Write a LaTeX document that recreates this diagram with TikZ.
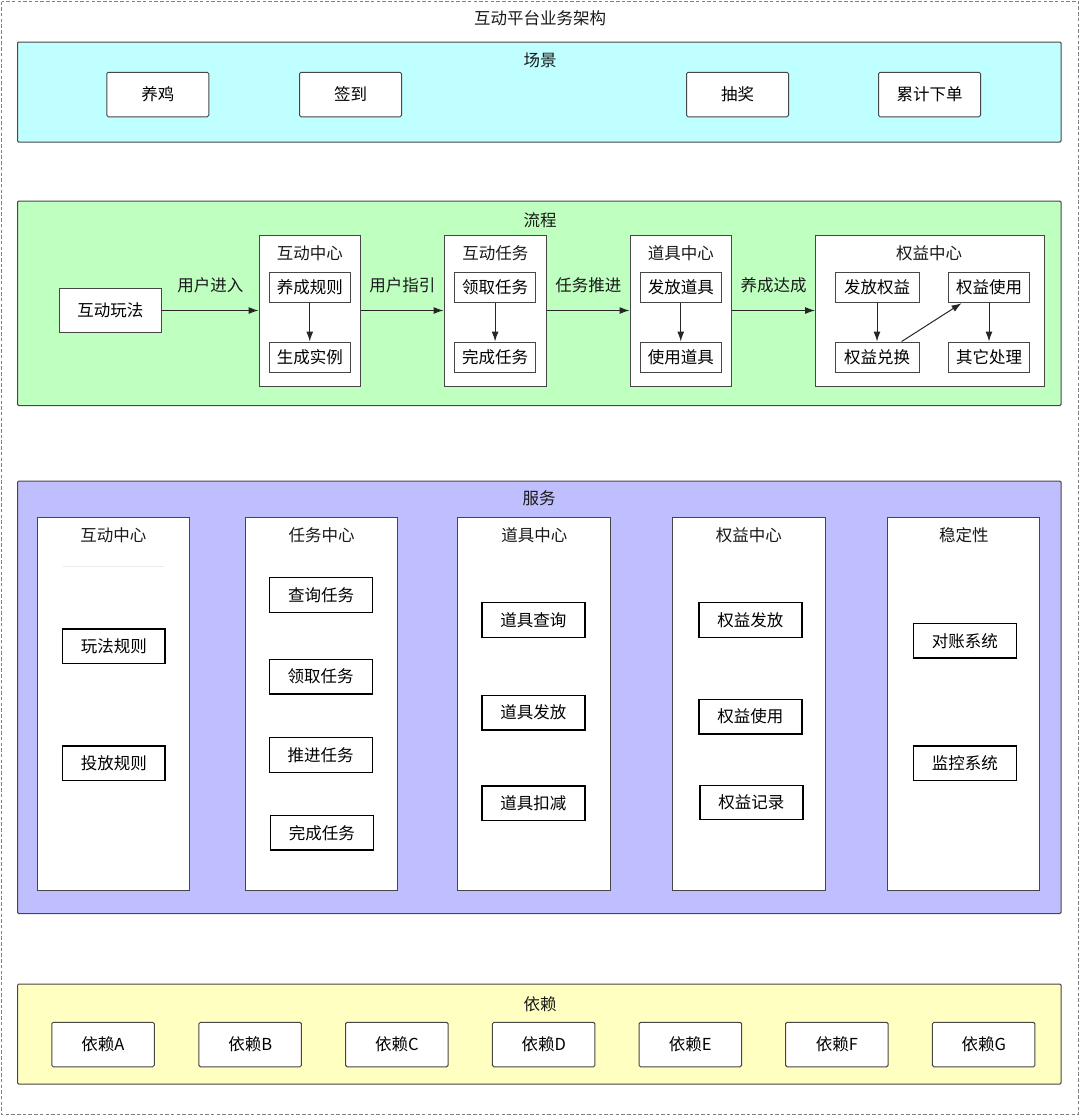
\documentclass[tikz,border=0pt]{standalone}
\usepackage{fontspec}
\setmainfont{Noto Sans CJK SC}
\usetikzlibrary{arrows.meta,calc}
\definecolor{cyanbg}{RGB}{191,255,255}
\definecolor{greenbg}{RGB}{191,255,191}
\definecolor{purplebg}{RGB}{191,191,255}
\definecolor{yellowbg}{RGB}{255,255,193}
\definecolor{edge}{RGB}{70,70,70}
\begin{document}
\begin{tikzpicture}[x=1pt,y=-1pt,
  font=\fontsize{16.5}{19}\selectfont,
  area/.style={draw=edge, line width=1pt, rounded corners=1.2pt, inner sep=0pt},
  ttl/.style={inner sep=0pt, text=black!90},
  sbox/.style={draw=edge, fill=white, line width=1pt, rounded corners=1.5pt, minimum width=102pt, minimum height=44.5pt, inner sep=0pt},
  fbox/.style={draw=edge, fill=white, line width=1pt, minimum width=81pt, minimum height=30pt, inner sep=0pt},
  fcont/.style={draw=edge, fill=white, line width=1pt, minimum width=101.5pt, minimum height=151pt, inner sep=0pt},
  svbox/.style={draw=black, fill=white, line width=1.3pt, minimum width=103pt, minimum height=34.5pt, inner sep=0pt},
  col/.style={draw=edge, fill=white, line width=1pt, minimum width=152pt, minimum height=372.3pt, inner sep=0pt},
  arr/.style={-{Latex[length=10pt,width=7pt]}, line width=1pt, draw=black!85},
  lbl/.style={inner sep=0pt, text=black!90}
]
\useasboundingbox (0,0) rectangle (1080,1117);
% outer dashed frame
\draw[draw=black!50, line width=1.4pt, dash pattern=on 3.5pt off 2.2pt] (1.5,1.5) rectangle (1078.5,1114.5);
\node[ttl] (maintitle) at (540,18) {互动平台业务架构};

% ---------------- 场景 ----------------
\draw[area, fill=cyanbg] (17.5,42) rectangle (1061,142);
\node[ttl] (t-scene) at (540,60) {场景};
\node[sbox] (s1) at (157.75,94.5) {养鸡};
\node[sbox] (s2) at (350.5,94.5) {签到};
\node[sbox] (s3) at (737.5,94.5) {抽奖};
\node[sbox] (s4) at (929.5,94.5) {累计下单};

% ---------------- 流程 ----------------
\draw[area, fill=greenbg] (17.5,201) rectangle (1061,405.5);
\node[ttl] (t-flow) at (540,220) {流程};
\node[fbox, minimum width=102.5pt, minimum height=44pt] (play) at (110.25,310.5) {互动玩法};

\node[fcont] (c1) at (309.75,310.5) {};
\node[ttl] (c1t) at (309.75,253) {互动中心};
\node[fbox, minimum width=80.5pt] (c1a) at (309.75,287.7) {养成规则};
\node[fbox, minimum width=80.5pt] (c1b) at (309.75,357) {生成实例};

\node[fcont, minimum width=102.5pt] (c2) at (495.25,310.5) {};
\node[ttl] (c2t) at (495.25,253) {互动任务};
\node[fbox] (c2a) at (495.1,287.7) {领取任务};
\node[fbox] (c2b) at (495.1,357) {完成任务};

\node[fcont] (c3) at (680.75,310.5) {};
\node[ttl] (c3t) at (680.75,253) {道具中心};
\node[fbox, minimum width=81.5pt] (c3a) at (680.75,287.7) {发放道具};
\node[fbox, minimum width=81.5pt] (c3b) at (680.75,357) {使用道具};

\node[fcont, minimum width=229pt] (c4) at (930,310.5) {};
\node[ttl] (c4t) at (929,253) {权益中心};
\node[fbox, minimum width=84pt] (c4a) at (877,287.7) {发放权益};
\node[fbox] (c4b) at (989,287.7) {权益使用};
\node[fbox, minimum width=84pt] (c4c) at (877,357) {权益兑换};
\node[fbox] (c4d) at (989,357) {其它处理};

\draw[arr] (play.east) -- node[lbl, midway, yshift=25.5pt] (l1) {用户进入} (c1.west);
\draw[arr] (c1.east) -- node[lbl, midway, yshift=25.5pt] (l2) {用户指引} (c2.west);
\draw[arr] (c2.east) -- node[lbl, midway, yshift=25.5pt] (l3) {任务推进} (c3.west);
\draw[arr] (c3.east) -- node[lbl, midway, yshift=25.5pt] (l4) {养成达成} (c4.west);

\draw[arr] (c1a.south) -- (c1b.north);
\draw[arr] (c2a.south) -- (c2b.north);
\draw[arr] (c3a.south) -- (c3b.north);
\draw[arr] (c4a.south) -- (c4c.north);
\draw[arr] (c4b.south) -- (c4d.north);
\draw[arr] ($(c4c.north west)!0.79!(c4c.north east)$) -- ($(c4b.south west)!0.165!(c4b.south east)$);

% ---------------- 服务 ----------------
\draw[area, fill=purplebg] (17.5,481) rectangle (1061,913.5);
\node[ttl] (t-svc) at (539,498) {服务};

\node[col] (k1) at (113.3,703.85) {};
\node[ttl] (k1t) at (113.3,535) {互动中心};
\draw[draw=black!8, line width=0.8pt] (63,566) -- (164,566);
\node[svbox, minimum width=102.3pt] (k1a) at (113.85,646.15) {玩法规则};
\node[svbox, minimum width=102.3pt] (k1b) at (113.85,763.35) {投放规则};

\node[col] (k2) at (321.7,703.85) {};
\node[ttl] (k2t) at (321.7,535) {任务中心};
\node[svbox] (k2a) at (321,595) {查询任务};
\node[svbox] (k2b) at (320.7,676.7) {领取任务};
\node[svbox] (k2c) at (320.7,755) {推进任务};
\node[svbox] (k2d) at (321.8,832.85) {完成任务};

\node[col, minimum width=152.8pt] (k3) at (534.3,703.85) {};
\node[ttl] (k3t) at (534.3,535) {道具中心};
\node[svbox] (k3a) at (533.45,620) {道具查询};
\node[svbox] (k3b) at (533.45,712.65) {道具发放};
\node[svbox] (k3c) at (533.45,803.35) {道具扣减};

\node[col, minimum width=152.8pt] (k4) at (748.9,703.85) {};
\node[ttl] (k4t) at (748.9,535) {权益中心};
\node[svbox] (k4a) at (750.35,620) {权益发放};
\node[svbox] (k4b) at (750.35,716.65) {权益使用};
\node[svbox] (k4c) at (751.45,802.5) {权益记录};

\node[col] (k5) at (963.8,703.85) {};
\node[ttl] (k5t) at (963.8,535) {稳定性};
\node[svbox] (k5a) at (964.85,640.8) {对账系统};
\node[svbox] (k5b) at (964.85,763.35) {监控系统};

% ---------------- 依赖 ----------------
\draw[area, fill=yellowbg] (17.5,984) rectangle (1061,1084);
\node[ttl] (t-dep) at (540,1004) {依赖};
\node[sbox, minimum width=102.5pt] (d1) at (103,1044.5) {依赖A};
\node[sbox, minimum width=102.5pt] (d2) at (250.2,1044.5) {依赖B};
\node[sbox, minimum width=102.5pt] (d3) at (396.9,1044.5) {依赖C};
\node[sbox, minimum width=102.5pt] (d4) at (543.7,1044.5) {依赖D};
\node[sbox, minimum width=102.5pt] (d5) at (690.3,1044.5) {依赖E};
\node[sbox, minimum width=102.5pt] (d6) at (836.8,1044.5) {依赖F};
\node[sbox, minimum width=102.5pt] (d7) at (983.7,1044.5) {依赖G};
\end{tikzpicture}
\end{document}
